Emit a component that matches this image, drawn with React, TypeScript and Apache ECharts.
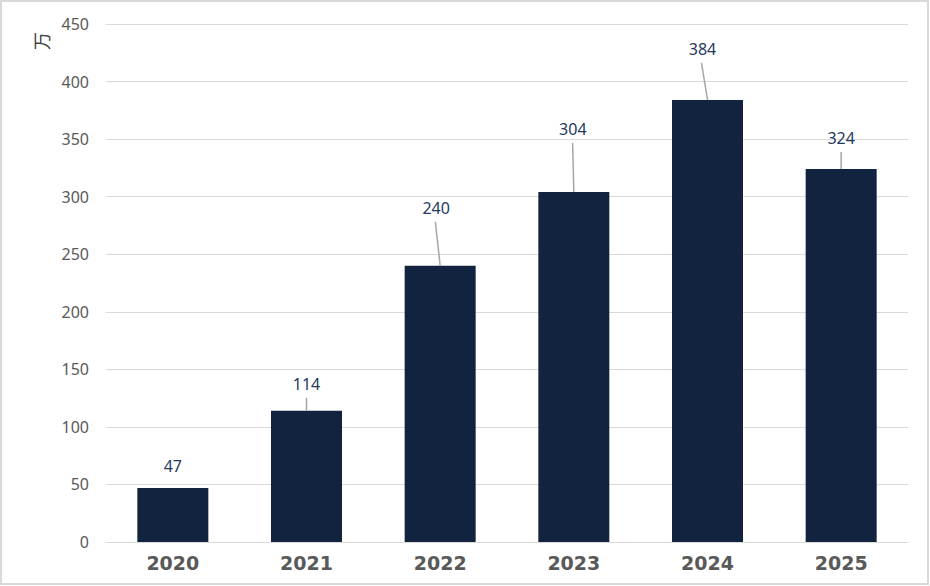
import React, { useEffect, useRef } from "react";
import * as echarts from "echarts";

const categories = ["2020", "2021", "2022", "2023", "2024", "2025"];
const values = [47, 114, 240, 304, 384, 324];
const yTicks = { min: 0, max: 450, interval: 50 };
const unitLabel = "万";

// label placement styling (pixels above bar top, horizontal nudge)
const labelLift = [22, 27, 58, 63, 51, 31];
const labelDx = [0, 0, -4, -1, -5, 0];

export default function App() {
  const ref = useRef<HTMLDivElement>(null);
  useEffect(() => {
    if (!ref.current) return;
    const chart = echarts.init(ref.current, null, { renderer: "svg" });
    chart.setOption({
      animation: false,
      backgroundColor: "#ffffff",
      grid: { left: 106, right: 22, top: 24, bottom: 44, containLabel: false },
      xAxis: {
        type: "category",
        data: categories,
        axisLine: { show: true, lineStyle: { color: "#d9d9d9", width: 1 } },
        axisTick: { show: false },
        axisLabel: {
          color: "#595959",
          fontFamily: "DejaVu Sans",
          fontWeight: "bold",
          fontSize: 19,
          margin: 11,
        },
      },
      yAxis: {
        type: "value",
        min: yTicks.min,
        max: yTicks.max,
        interval: yTicks.interval,
        axisLine: { show: false },
        axisTick: { show: false },
        splitLine: { lineStyle: { color: "#d9d9d9", width: 1 } },
        axisLabel: {
          color: "#595959",
          fontFamily: "Noto Sans",
          fontSize: 16,
          margin: 17,
        },
      },
      graphic: [
        {
          type: "rect",
          silent: true,
          shape: { x: 1, y: 1, width: 927, height: 583 },
          style: { fill: "none", stroke: "#d9d9d9", lineWidth: 2 },
          z: 100,
        },
        {
          type: "text",
          x: 41,
          y: 41,
          rotation: Math.PI / 2,
          style: {
            text: unitLabel,
            fill: "#404040",
            font: "18px 'Noto Sans CJK SC'",
            align: "center",
            verticalAlign: "middle",
          },
        },
      ],
      series: [
        {
          type: "bar",
          data: values,
          barWidth: 71,
          itemStyle: { color: "#12233f" },
          label: { show: false },
        },
        {
          type: "custom",
          data: values.map((v, i) => [i, v]),
          z: 10,
          renderItem: (params: any, api: any) => {
            const i = api.value(0);
            const v = api.value(1);
            const p = api.coord([i, v]);
            const idx = params.dataIndex;
            const lift = labelLift[idx];
            const dx = labelDx[idx];
            const lx = p[0] + dx;
            const ly = p[1] - lift;
            const children: any[] = [
              {
                type: "text",
                style: {
                  text: String(values[idx]),
                  x: lx,
                  y: ly,
                  align: "center",
                  verticalAlign: "middle",
                  fill: "#243a5e",
                  font: "16px 'Noto Sans'",
                },
              },
            ];
            if (lift - 14 > 10) {
              children.push({
                type: "line",
                shape: { x1: lx + dx * 0.2, y1: ly + 14, x2: p[0], y2: p[1] },
                style: { stroke: "#a6a6a6", lineWidth: 1.5 },
              });
            }
            return { type: "group", children };
          },
        },
      ],
    });
    return () => chart.dispose();
  }, []);
  return (
    <div
      ref={ref}
      style={{ position: "fixed", left: 0, top: 0, width: 930, height: 586 }}
    />
  );
}
